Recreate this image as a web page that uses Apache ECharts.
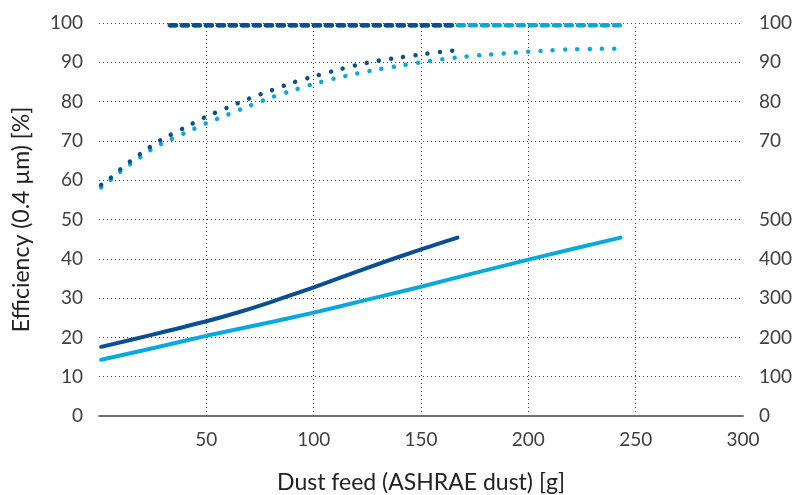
<!DOCTYPE html>
<html>
<head>
<meta charset="utf-8">
<script src="https://cdn.jsdelivr.net/npm/echarts@6/dist/echarts.min.js"></script>
<style>html,body{margin:0;padding:0;background:#fff}#c{width:795px;height:495px}</style>
</head>
<body>
<div id="c"></div>
<script>
// Dust feed [g] and values
var topDarkX = [33, 166];
var topDarkY = [99.4, 99.4];
var topLightX = [33, 243];
var topLightY = [99.4, 99.4];

var effDarkX = [1, 5, 10, 15, 20, 25, 30, 40, 50, 60, 70, 80, 90, 100, 110, 120, 130, 140, 150, 160, 166];
var effDarkY = [58.8, 60.4, 62.8, 65.0, 67.0, 68.9, 70.6, 73.4, 76.2, 78.5, 80.8, 82.8, 84.8, 86.4, 87.9, 89.3, 90.4, 91.2, 92.0, 92.7, 93.0];

var effLightX = [1, 5, 10, 15, 20, 25, 30, 40, 50, 60, 70, 80, 90, 100, 110, 120, 130, 140, 150, 160, 170, 180, 190, 200, 210, 220, 230, 243];
var effLightY = [58.2, 59.9, 62.2, 64.3, 66.2, 68.0, 69.5, 72.0, 74.5, 76.7, 78.9, 81.0, 82.8, 84.5, 85.9, 87.1, 88.2, 89.1, 90.0, 90.8, 91.4, 91.9, 92.3, 92.7, 93.0, 93.3, 93.4, 93.5];

// Pressure drop [Pa] (right axis)
var dpDarkX = [1, 25, 50, 65, 80, 100, 125, 150, 167];
var dpDarkY = [176, 207, 241, 264, 290, 327, 377, 424, 454];
var dpLightX = [1, 27, 50, 82, 100, 125, 150, 173, 200, 243];
var dpLightY = [143, 175, 204, 241, 263, 296, 329, 361, 398, 454];

var xTicks = [50, 100, 150, 200, 250, 300];

var DARK = '#0a4f94';
var LIGHT = '#0aa8e0';
var FONT = 'Lato';
var TXT = '#404040';

function zip(xs, ys) { return xs.map(function (x, i) { return [x, ys[i]]; }); }

var chart = echarts.init(document.getElementById('c'), null, { renderer: 'canvas' });
var gridLine = { show: true, lineStyle: { color: '#444', width: 1, type: [1, 3] } };

chart.setOption({
  animation: false,
  backgroundColor: '#fff',
  grid: { left: 99, right: 52, top: 23, bottom: 79, containLabel: false, outerBoundsMode: 'none' },
  xAxis: {
    type: 'value', min: 0, max: 300, interval: 50,
    name: 'Dust feed (ASHRAE dust) [g]', nameLocation: 'middle', nameGap: 55,
    nameTextStyle: { fontFamily: FONT, fontSize: 23, color: '#222' },
    axisLine: { show: true, onZero: false, lineStyle: { color: '#707070', width: 2 } },
    axisTick: { show: false },
    axisLabel: { showMinLabel: false, margin: 14, fontFamily: FONT, fontSize: 19, color: TXT,
      formatter: function (v) { return xTicks.indexOf(v) >= 0 ? String(v) : ''; } },
    splitLine: { show: true, showMinLine: false, showMaxLine: false, lineStyle: { color: '#444', width: 1, type: [1, 3] } }
  },
  yAxis: [{
    type: 'value', min: 0, max: 100, interval: 10,
    name: 'Efficiency (0.4 µm) [%]', nameLocation: 'middle', nameGap: 66,
    nameTextStyle: { fontFamily: FONT, fontSize: 23, color: '#222' },
    axisLine: { show: false }, axisTick: { show: false },
    axisLabel: { margin: 16, fontFamily: FONT, fontSize: 19, color: TXT },
    splitLine: gridLine
  }, {
    type: 'value', min: 0, max: 1000, interval: 100, position: 'right',
    axisLine: { show: false }, axisTick: { show: false },
    axisLabel: { margin: 16, fontFamily: FONT, fontSize: 19, color: TXT,
      formatter: function (v) { if (v <= 500) return String(v); if (v >= 700) return String(v / 10); return ''; } },
    splitLine: { show: false }
  }],
  series: [
    { type: 'line', yAxisIndex: 1, data: zip(dpLightX, dpLightY), showSymbol: false, smooth: 0.2,
      lineStyle: { color: LIGHT, width: 4, cap: 'round' } },
    { type: 'line', yAxisIndex: 1, data: zip(dpDarkX, dpDarkY), showSymbol: false, smooth: 0.3,
      lineStyle: { color: DARK, width: 4, cap: 'round' } },
    { type: 'line', data: zip(effLightX, effLightY), showSymbol: false, smooth: 0.3,
      lineStyle: { color: LIGHT, width: 4.5, type: [0.01, 12.3], cap: 'round' } },
    { type: 'line', data: zip(effDarkX, effDarkY), showSymbol: false, smooth: 0.3,
      lineStyle: { color: DARK, width: 4.5, type: [0.01, 12.3], cap: 'round' } },
    { type: 'line', data: zip(topLightX, topLightY), showSymbol: false,
      lineStyle: { color: LIGHT, width: 4.5, type: [6, 6], cap: 'round' } },
    { type: 'line', data: zip(topDarkX, topDarkY), showSymbol: false,
      lineStyle: { color: DARK, width: 4.5, type: [6, 6], cap: 'round' } }
  ]
});
</script>
</body>
</html>
